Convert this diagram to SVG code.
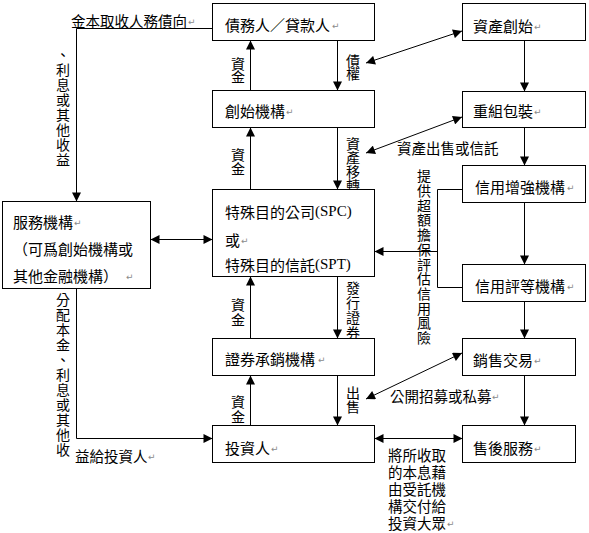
<svg xmlns="http://www.w3.org/2000/svg" width="589" height="533" viewBox="0 0 589 533">
<style>
  .box { fill: #ffffff; stroke: #000000; stroke-width: 1; }
  .t { font-family: "Noto Sans CJK TC", "Noto Sans CJK SC", sans-serif; font-size: 15px; fill: #000000; dominant-baseline: central; }
  .lb { font-family: "Noto Sans CJK TC", "Noto Sans CJK SC", sans-serif; font-size: 14.5px; fill: #000000; dominant-baseline: central; }
  .v { font-family: "Noto Sans CJK TC", "Noto Sans CJK SC", sans-serif; font-size: 14px; fill: #000000; writing-mode: vertical-rl; text-orientation: upright; }
  .v13 { letter-spacing: -1px; }
  .v15 { letter-spacing: 1px; }
  .lat { font-family: "Liberation Serif", serif; }
  .pm { font-family: "DejaVu Sans", sans-serif; font-size: 9px; fill: #8a8a8a; dominant-baseline: central; }
  .c { fill: none; stroke: #000000; stroke-width: 1; }
  .ca { fill: none; stroke: #000000; stroke-width: 1; marker-end: url(#ah); }
  .cd { fill: none; stroke: #000000; stroke-width: 1; marker-start: url(#ah); marker-end: url(#ah); }
</style>
<defs>
  <marker id="ah" viewBox="0 0 10 10" refX="10" refY="5" markerWidth="10" markerHeight="9" markerUnits="userSpaceOnUse" orient="auto-start-reverse">
    <path d="M0,0 L10,5 L0,10 z" fill="#000000"/>
  </marker>
</defs>
<rect width="589" height="533" fill="#ffffff"/>

<g id="connectors">
  <path class="ca" d="M212.5,28.5 H76.5 V201.5"/>
  <path class="ca" d="M250.5,90.5 V40.5"/>
  <path class="ca" d="M337.5,40.5 V90.5"/>
  <path class="cd" d="M366,63 L462,31"/>
  <path class="ca" d="M250.5,189.5 V127.5"/>
  <path class="ca" d="M337.5,127.5 V189.5"/>
  <path class="cd" d="M366,153 L462,117"/>
  <path class="ca" d="M524.5,40.5 V91.5"/>
  <path class="ca" d="M524.5,127.5 V165.5"/>
  <path class="ca" d="M524.5,202.5 V264.5"/>
  <path class="ca" d="M524.5,301.5 V338.5"/>
  <path class="ca" d="M524.5,375.5 V425.5"/>
  <path class="c" d="M462.5,189.5 H437.5 V287.5 H462.5"/>
  <path class="ca" d="M437.5,251.5 H374.5"/>
  <path class="cd" d="M150.5,239.5 H212.5"/>
  <path class="ca" d="M76.5,288.5 V438.5 H212.5"/>
  <path class="ca" d="M250.5,338.5 V276.5"/>
  <path class="ca" d="M337.5,276.5 V338.5"/>
  <path class="ca" d="M337.5,375.5 V425.5"/>
  <path class="ca" d="M250.5,425.5 V375.5"/>
  <path class="cd" d="M366,399 L462,353"/>
  <path class="cd" d="M374.5,438.5 H462.5"/>
</g>

<g id="labels">
  <text class="lb" x="71" y="20">金本取收人務債向</text>
  <text class="pm" x="188" y="22">↵</text>
  <text class="v v15" x="63" y="48">、利息或其他收益</text>
  <text class="v v13" x="238" y="57">資金</text>
  <text class="v v13" x="353" y="54">債權</text>
  <text class="v" x="238" y="148">資金</text>
  <text class="v" x="353" y="137">資產移轉</text>
  <text class="lb" x="397" y="147">資產出售或信託</text>
  <text class="v" x="424" y="169" style="letter-spacing:0.7px">提供超額擔保評估信用風險</text>
  <text class="v v15" x="238" y="298">資金</text>
  <text class="v v15" x="353" y="281">發行證券</text>
  <text class="v" x="353" y="386">出售</text>
  <text class="v v15" x="238" y="395">資金</text>
  <text class="lb" x="390" y="395">公開招募或私募</text>
  <text class="pm" x="492" y="397">↵</text>
  <text class="v v15" x="63" y="293">分配本金、利息或其他收</text>
  <text class="lb" x="75" y="455">益給投資人</text>
  <text class="pm" x="148" y="457">↵</text>
  <text class="lb"><tspan x="388" y="454">將所收取</tspan><tspan x="388" y="471">的本息藉</tspan><tspan x="388" y="488">由受託機</tspan><tspan x="388" y="505">構交付給</tspan><tspan x="388" y="522">投資大眾</tspan></text>
  <text class="pm" x="447" y="524">↵</text>
</g>

<g id="node-debtor">
  <rect class="box" x="212.5" y="3.5" width="162" height="37"/>
  <text class="t" x="225" y="24">債務人／貸款人</text>
  <text class="pm" x="332" y="26">↵</text>
</g>
<g id="node-originator">
  <rect class="box" x="212.5" y="90.5" width="162" height="37"/>
  <text class="t" x="225" y="110">創始機構</text>
  <text class="pm" x="286" y="112">↵</text>
</g>
<g id="node-spv">
  <rect class="box" x="212.5" y="189.5" width="162" height="87"/>
  <text class="t" x="225" y="211">特殊目的公司<tspan class="lat">(SPC)</tspan></text>
  <text class="t" x="225" y="239">或</text>
  <text class="pm" x="241" y="241">↵</text>
  <text class="t" x="225" y="264">特殊目的信託<tspan class="lat">(SPT)</tspan></text>
</g>
<g id="node-underwriter">
  <rect class="box" x="212.5" y="338.5" width="162" height="37"/>
  <text class="t" x="225" y="358">證券承銷機構</text>
  <text class="pm" x="318" y="360">↵</text>
</g>
<g id="node-investor">
  <rect class="box" x="212.5" y="425.5" width="162" height="37"/>
  <text class="t" x="225" y="447">投資人</text>
  <text class="pm" x="271" y="449">↵</text>
</g>
<g id="node-servicer">
  <rect class="box" x="2.5" y="201.5" width="148" height="87"/>
  <text class="t" x="13" y="221">服務機構</text>
  <text class="pm" x="74" y="223">↵</text>
  <text class="t" x="13" y="248">（可爲創始機構或</text>
  <text class="t" x="13" y="275">其他金融機構）</text>
  <text class="pm" x="126" y="277">↵</text>
</g>
<g id="node-origination">
  <rect class="box" x="462.5" y="3.5" width="123" height="37"/>
  <text class="t" x="473" y="25">資產創始</text>
  <text class="pm" x="534" y="27">↵</text>
</g>
<g id="node-repackaging">
  <rect class="box" x="462.5" y="91.5" width="123" height="36"/>
  <text class="t" x="473" y="110">重組包裝</text>
  <text class="pm" x="534" y="112">↵</text>
</g>
<g id="node-enhancement">
  <rect class="box" x="462.5" y="165.5" width="123" height="37"/>
  <text class="t" x="475" y="186">信用增強機構</text>
  <text class="pm" x="567" y="188">↵</text>
</g>
<g id="node-rating">
  <rect class="box" x="462.5" y="264.5" width="123" height="37"/>
  <text class="t" x="475" y="285">信用評等機構</text>
  <text class="pm" x="567" y="287">↵</text>
</g>
<g id="node-sales">
  <rect class="box" x="462.5" y="338.5" width="113" height="37"/>
  <text class="t" x="473" y="359">銷售交易</text>
  <text class="pm" x="534" y="361">↵</text>
</g>
<g id="node-aftersales">
  <rect class="box" x="462.5" y="425.5" width="113" height="37"/>
  <text class="t" x="473" y="447">售後服務</text>
  <text class="pm" x="534" y="449">↵</text>
</g>
</svg>
